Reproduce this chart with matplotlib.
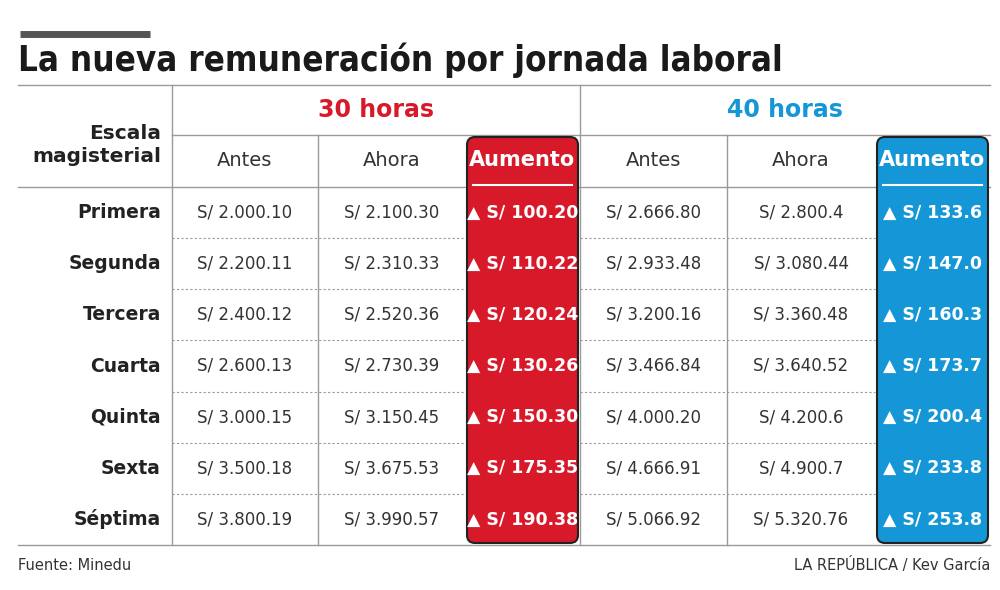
import matplotlib
matplotlib.use("Agg")
import matplotlib.pyplot as plt
from matplotlib.patches import FancyBboxPatch

escalas = ["Primera", "Segunda", "Tercera", "Cuarta", "Quinta", "Sexta", "Séptima"]
antes_30 = ["S/ 2.000.10", "S/ 2.200.11", "S/ 2.400.12", "S/ 2.600.13", "S/ 3.000.15", "S/ 3.500.18", "S/ 3.800.19"]
ahora_30 = ["S/ 2.100.30", "S/ 2.310.33", "S/ 2.520.36", "S/ 2.730.39", "S/ 3.150.45", "S/ 3.675.53", "S/ 3.990.57"]
aumento_30 = ["S/ 100.20", "S/ 110.22", "S/ 120.24", "S/ 130.26", "S/ 150.30", "S/ 175.35", "S/ 190.38"]
antes_40 = ["S/ 2.666.80", "S/ 2.933.48", "S/ 3.200.16", "S/ 3.466.84", "S/ 4.000.20", "S/ 4.666.91", "S/ 5.066.92"]
ahora_40 = ["S/ 2.800.4", "S/ 3.080.44", "S/ 3.360.48", "S/ 3.640.52", "S/ 4.200.6", "S/ 4.900.7", "S/ 5.320.76"]
aumento_40 = ["S/ 133.6", "S/ 147.0", "S/ 160.3", "S/ 173.7", "S/ 200.4", "S/ 233.8", "S/ 253.8"]

RED = "#d7192a"
BLUE = "#1596d6"
LINE = "#9a9a9a"

fig = plt.figure(figsize=(10, 5.9), dpi=100)
ax = fig.add_axes([0, 0, 1, 1])
ax.set_xlim(0, 1000)
ax.set_ylim(590, 0)
ax.axis("off")

# titulo
ax.plot([20, 150], [34, 34], color="#555555", lw=5, solid_capstyle="butt")
ax.text(18, 60, "La nueva remuneración por jornada laboral", fontsize=25, fontweight="bold",
        ha="left", va="center", color="#1a1a1a", fontstretch="condensed")

cols = [18, 172, 318, 465, 580, 727, 875, 990]
top, sub, body = 85, 135, 187
row_h = (545 - 187) / 7
bottom = 545

# cajas de aumento
for x0, x1, c in [(cols[3], cols[4], RED), (cols[6], cols[7], BLUE)]:
    ax.add_patch(FancyBboxPatch((x0 + 2, sub + 2), x1 - x0 - 4, bottom - sub - 4,
                                boxstyle="round,pad=0,rounding_size=8", fc=c, ec="#222222", lw=1.5, zorder=3))
    ax.plot([x0 + 8, x1 - 8], [185, 185], color="white", lw=1.5, zorder=4)
    ax.text((x0 + x1) / 2, 160, "Aumento", fontsize=15, fontweight="bold", color="white",
            ha="center", va="center", zorder=4)

# lineas
ax.plot([18, 990], [top, top], color=LINE, lw=1)
ax.plot([cols[1], 990], [sub, sub], color=LINE, lw=1)
ax.plot([18, 990], [body, body], color=LINE, lw=1)
ax.plot([18, 990], [bottom, bottom], color=LINE, lw=1)
for x in [cols[1], cols[4]]:
    ax.plot([x, x], [top, bottom], color=LINE, lw=1)
for x in [cols[2], cols[5]]:
    ax.plot([x, x], [sub, bottom], color=LINE, lw=1)
for i in range(1, 7):
    y = body + i * row_h
    ax.plot([cols[1], cols[3]], [y, y], color=LINE, lw=0.8, ls=(0, (2, 2)))
    ax.plot([cols[4], cols[6]], [y, y], color=LINE, lw=0.8, ls=(0, (2, 2)))

# encabezados
ax.text((cols[1] + cols[4]) / 2, 110, "30 horas", fontsize=17, fontweight="bold", color=RED, ha="center", va="center")
ax.text((cols[4] + cols[7]) / 2, 110, "40 horas", fontsize=17, fontweight="bold", color=BLUE, ha="center", va="center")
ax.text(161, 145, "Escala\nmagisterial", fontsize=14.5, fontweight="bold", color="#222222",
        ha="right", va="center", linespacing=1.3)
for c0 in [1, 2, 4, 5]:
    ax.text((cols[c0] + cols[c0 + 1]) / 2, 160, ["Antes", "Ahora"][c0 in (2, 5)],
            fontsize=14, color="#333333", ha="center", va="center")

# filas
for i, esc in enumerate(escalas):
    y = body + (i + 0.5) * row_h
    ax.text(161, y, esc, fontsize=13.5, fontweight="bold", color="#222222", ha="right", va="center")
    for c0, vals in [(1, antes_30), (2, ahora_30), (4, antes_40), (5, ahora_40)]:
        ax.text((cols[c0] + cols[c0 + 1]) / 2, y, vals[i], fontsize=12, color="#333333", ha="center", va="center")
    for c0, vals in [(3, aumento_30), (6, aumento_40)]:
        ax.text((cols[c0] + cols[c0 + 1]) / 2, y, "▲ " + vals[i], fontsize=12.5, fontweight="bold",
                color="white", ha="center", va="center", zorder=5)

ax.text(18, 565, "Fuente: Minedu", fontsize=10.5, color="#333333", ha="left", va="center")
ax.text(990, 565, "LA REPÚBLICA / Kev García", fontsize=10.5, color="#333333", ha="right", va="center")

fig.savefig("out.png", dpi=100, facecolor="white")
